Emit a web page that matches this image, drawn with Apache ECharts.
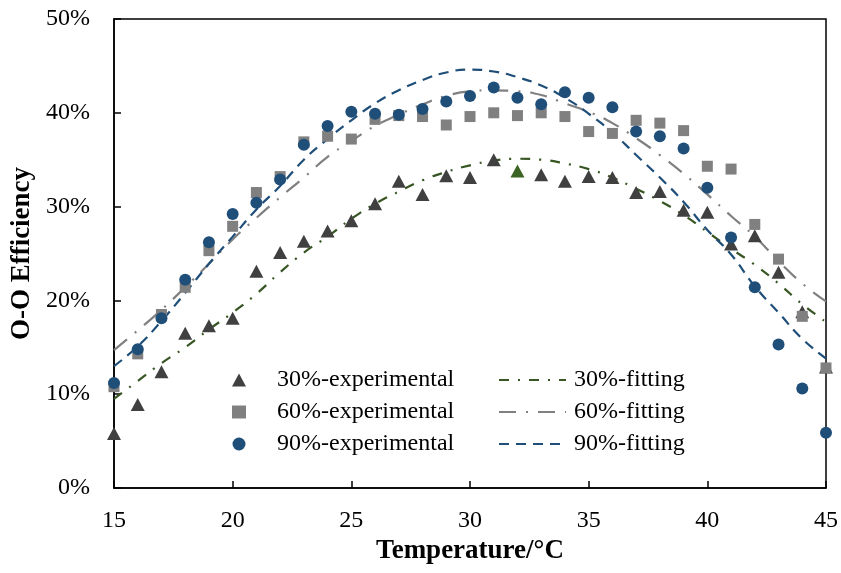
<!DOCTYPE html>
<html>
<head>
<meta charset="utf-8">
<script src="https://cdn.jsdelivr.net/npm/echarts@6/dist/echarts.min.js"></script>
<style>
html,body{margin:0;padding:0;background:#fff;}
#chart{width:841px;height:573px;}
</style>
</head>
<body>
<div id="chart"></div>
<script>
// Temperature (°C)
const temps = [15,16,17,18,19,20,21,22,23,24,25,26,27,28,29,30,31,32,33,34,35,36,37,38,39,40,41,42,43,44,45];
// Experimental O-O efficiency (%)
const exp30 = [5.8,8.9,12.4,16.5,17.3,18.1,23.1,25.1,26.3,27.4,28.5,30.3,32.7,31.3,33.3,33.1,35.0,33.8,33.4,32.7,33.2,33.1,31.5,31.6,29.6,29.4,26.0,26.9,23.0,18.8,12.9];
const exp60 = [10.8,14.3,18.5,21.4,25.3,27.9,31.5,33.2,36.9,37.5,37.2,39.3,39.7,39.6,38.7,39.6,40.0,39.7,40.0,39.6,38.0,37.8,39.2,38.9,38.1,34.3,34.0,28.1,24.4,18.3,12.8];
const exp90 = [11.2,14.8,18.1,22.2,26.2,29.2,30.4,32.9,36.6,38.6,40.1,39.9,39.8,40.4,41.2,41.8,42.7,41.6,40.9,42.2,41.6,40.6,38.0,37.5,36.2,32.0,26.7,21.4,15.3,10.6,5.9];
// Fitted curves (%)
const fit30 = [9.5,11.4,13.3,15.0,16.9,18.7,20.7,23.0,25.1,26.8,28.7,30.3,31.6,32.8,33.7,34.4,34.9,35.1,35.0,34.6,34.0,33.1,31.9,30.6,29.1,27.3,25.5,23.8,21.8,19.6,17.7];
const fit60 = [14.7,16.8,19.0,21.4,23.9,26.5,28.8,31.0,33.1,35.3,37.0,38.6,39.8,40.9,41.8,42.3,42.4,42.3,41.9,41.0,40.1,38.9,37.3,35.5,33.5,31.3,29.0,26.8,24.2,21.8,19.9];
const fit90 = [13.0,15.1,17.8,20.8,23.9,26.8,29.7,32.2,35.0,37.2,39.2,41.0,42.4,43.5,44.3,44.6,44.4,43.8,42.9,41.6,39.9,37.9,35.5,33.1,30.5,27.5,24.9,21.5,18.7,15.9,13.8];
const greenPointTemp = 32;

const FONT = "'Liberation Serif','Times New Roman',serif";
const pairs = (arr) => temps.map((t, i) => [t, arr[i]]);

const chart = echarts.init(document.getElementById('chart'), null, {renderer: 'canvas'});
const exp30Data = temps.map((t, i) => t === greenPointTemp
  ? {value: [t, exp30[i]], itemStyle: {color: '#3b6323'}}
  : [t, exp30[i]]);

chart.setOption({
  animation: false,
  backgroundColor: '#fff',
  grid: {left: 114, right: 15, top: 19, bottom: 85, show: true, borderColor: '#000', borderWidth: 1.5, backgroundColor: 'transparent'},
  xAxis: {
    type: 'value', min: 15, max: 45, interval: 5,
    name: 'Temperature/°C', nameLocation: 'middle', nameGap: 49,
    nameTextStyle: {fontFamily: FONT, fontWeight: 'bold', fontSize: 27, color: '#000'},
    axisLine: {show: true, lineStyle: {color: '#000', width: 1.5}},
    axisTick: {show: true, inside: true, length: 7, lineStyle: {color: '#000', width: 1.5}},
    axisLabel: {fontFamily: FONT, fontSize: 24, color: '#000', margin: 21},
    splitLine: {show: false}
  },
  yAxis: {
    type: 'value', min: 0, max: 50, interval: 10,
    name: 'O-O Efficiency', nameLocation: 'middle', nameGap: 74,
    nameTextStyle: {fontFamily: FONT, fontWeight: 'bold', fontSize: 27, color: '#000'},
    axisLine: {show: true, lineStyle: {color: '#000', width: 1.5}},
    axisTick: {show: true, inside: true, length: 7, lineStyle: {color: '#000', width: 1.5}},
    axisLabel: {fontFamily: FONT, fontSize: 24, color: '#000', margin: 24, formatter: '{value}%'},
    splitLine: {show: false}
  },
  legend: [
    {
      data: [
        {name: '30%-experimental', icon: 'triangle'},
        {name: '60%-experimental', icon: 'rect'},
        {name: '90%-experimental', icon: 'circle'}
      ],
      orient: 'vertical', left: 227, top: 363, itemWidth: 14, itemHeight: 13, itemGap: 8,
      textStyle: {fontFamily: FONT, fontSize: 24, color: '#000', padding: [0, 0, 0, 26]}
    },
    {
      data: ['30%-fitting', '60%-fitting', '90%-fitting'],
      orient: 'vertical', left: 493, top: 363, itemWidth: 67, itemHeight: 13, itemGap: 8,
      itemStyle: {opacity: 0},
      textStyle: {fontFamily: FONT, fontSize: 24, color: '#000', padding: [0, 0, 0, 3]}
    }
  ],
  series: [
    {name: '30%-fitting', type: 'line', data: pairs(fit30), smooth: true, symbol: 'none', z: 2,
     lineStyle: {color: '#375623', width: 2.2, type: [10, 9, 2, 9]}, itemStyle: {color: '#375623'}},
    {name: '60%-fitting', type: 'line', data: pairs(fit60), smooth: true, symbol: 'none', z: 2,
     lineStyle: {color: '#808080', width: 2.2, type: [17, 10, 2, 10]}, itemStyle: {color: '#808080'}},
    {name: '90%-fitting', type: 'line', data: pairs(fit90), smooth: true, symbol: 'none', z: 2,
     lineStyle: {color: '#1f4e79', width: 2.2, type: [10, 7]}, itemStyle: {color: '#1f4e79'}},
    {name: '30%-experimental', type: 'scatter', data: exp30Data, symbol: 'triangle', symbolSize: [14, 13], z: 3,
     itemStyle: {color: '#404040', opacity: 1}},
    {name: '60%-experimental', type: 'scatter', data: pairs(exp60), symbol: 'rect', symbolSize: 11, z: 4,
     itemStyle: {color: '#808080', opacity: 1}},
    {name: '90%-experimental', type: 'scatter', data: pairs(exp90), symbol: 'circle', symbolSize: 12, z: 5,
     itemStyle: {color: '#1f4e79', opacity: 1}}
  ]
});
</script>
</body>
</html>
